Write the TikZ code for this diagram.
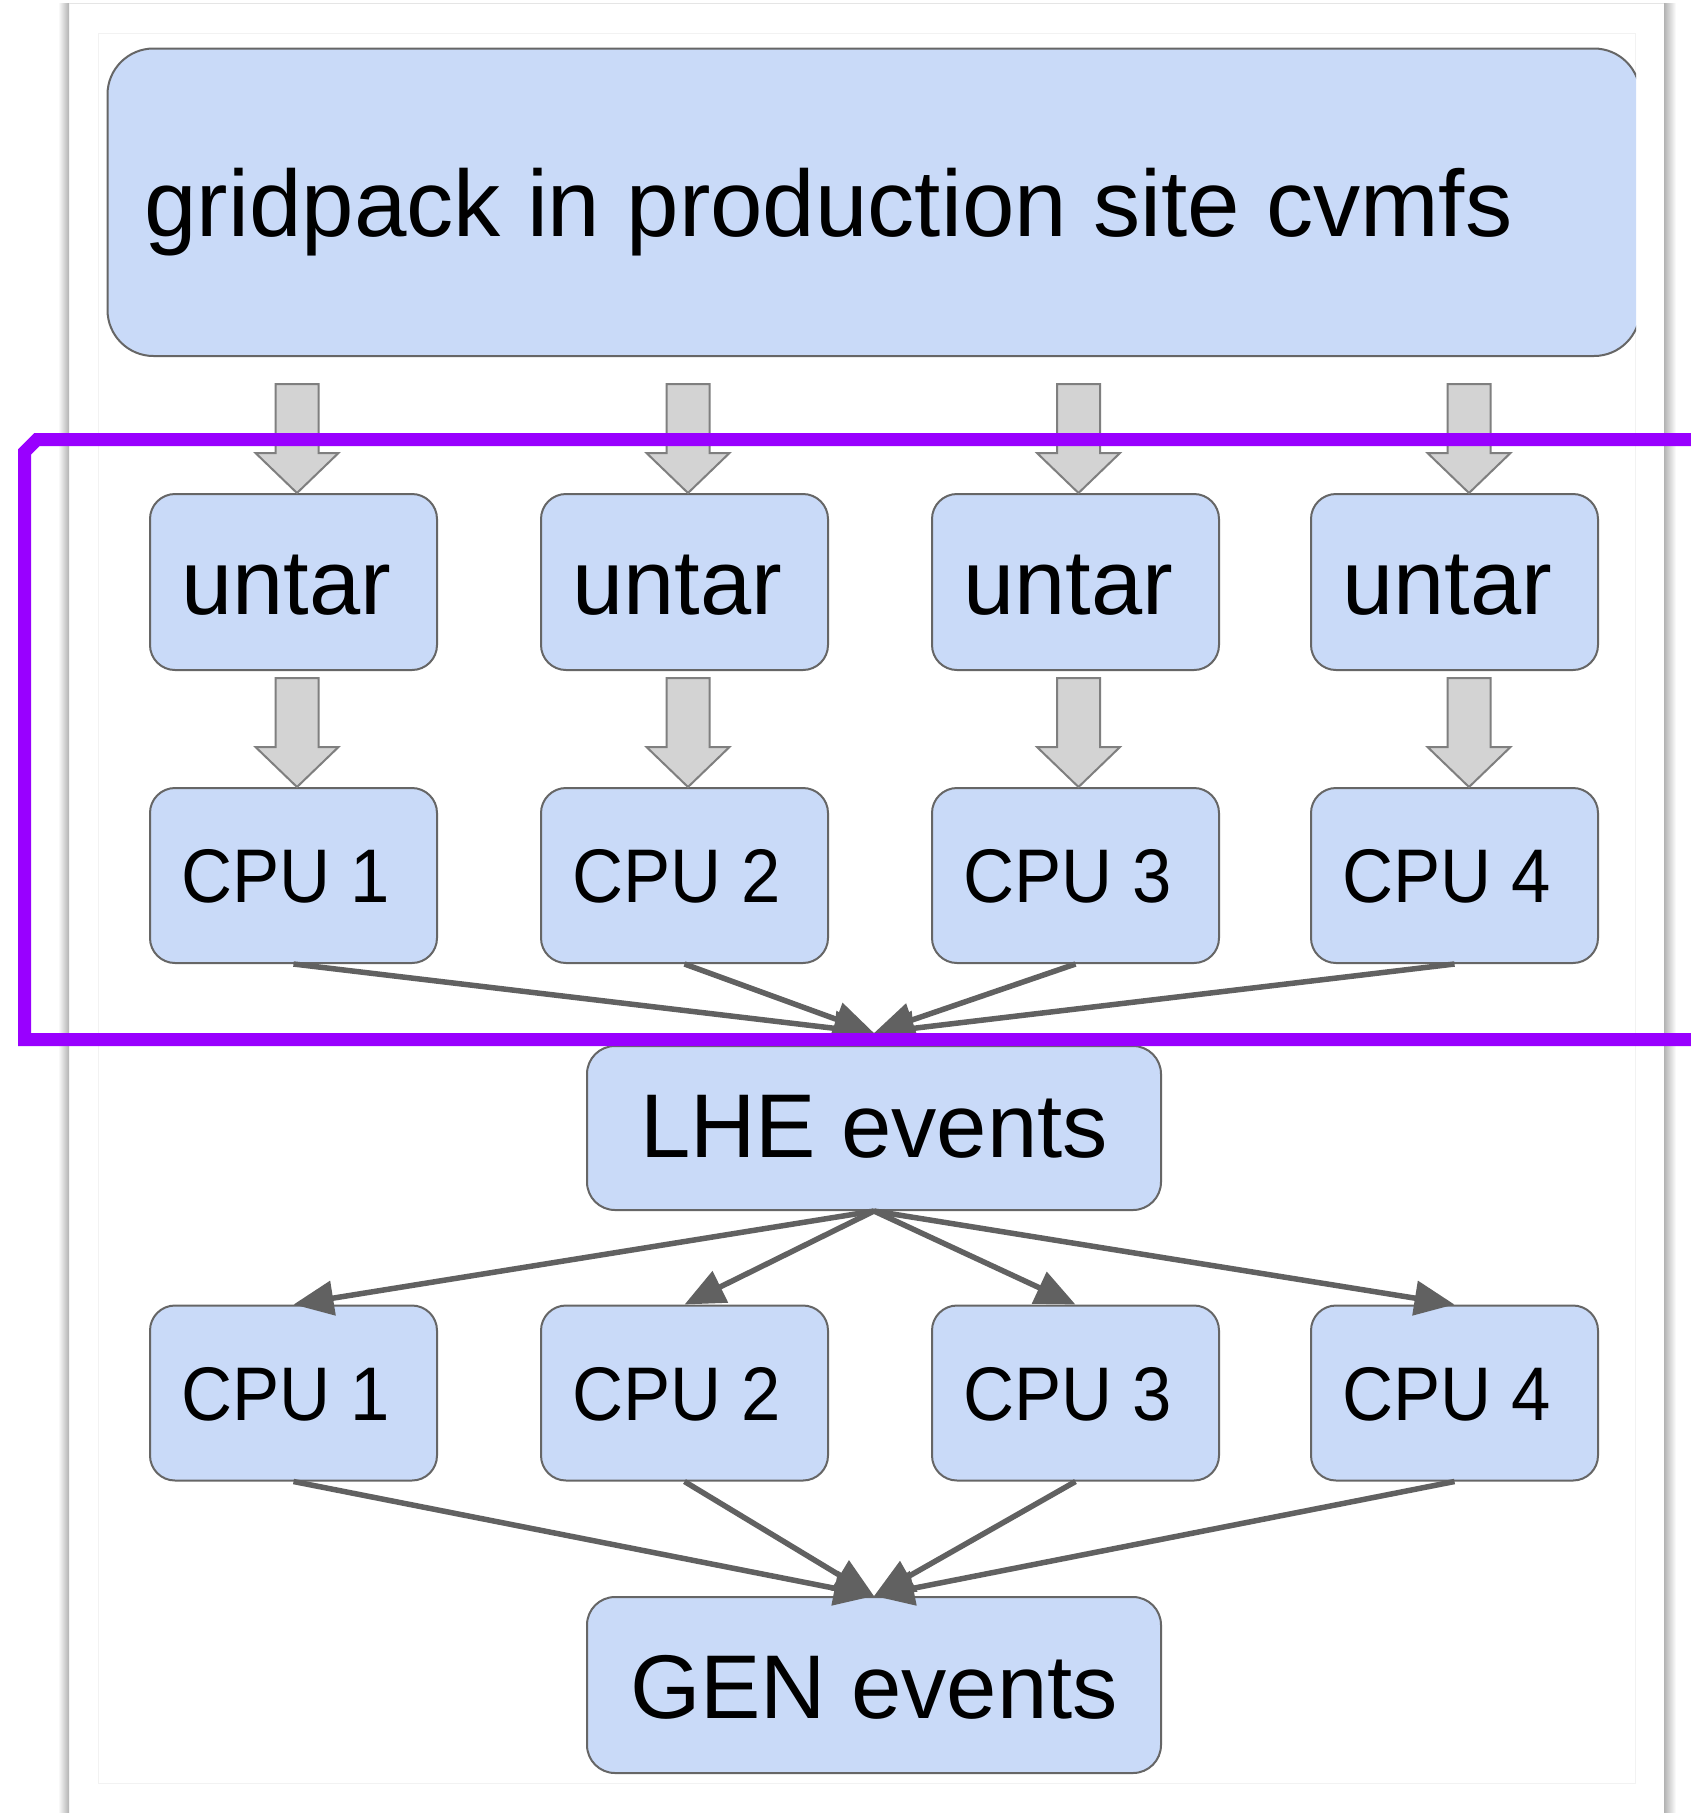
\documentclass[tikz,border=0pt]{standalone}
\usepackage{fontspec}
\setmainfont{Liberation Sans}
\newfontfamily\narrowsans[FakeStretch=0.93]{Liberation Sans}
\usetikzlibrary{arrows.meta}

\definecolor{boxfill}{HTML}{C9DAF8}
\definecolor{boxline}{HTML}{666666}
\definecolor{blockfill}{HTML}{D3D3D3}
\definecolor{blockline}{HTML}{7F7F7F}
\definecolor{connline}{HTML}{616161}
\definecolor{framepurple}{HTML}{9900FF}

\tikzset{
  stagebox/.style={draw=boxline, fill=boxfill, line width=2pt, rounded corners=25pt,
    inner sep=0pt, minimum width=287pt},
  untarbox/.style={stagebox, minimum height=176pt, text height=64pt, text depth=0pt,
    font=\fontsize{92}{100}\selectfont, execute at begin node={\hspace*{-14pt}}},
  cpubox/.style={stagebox, minimum height=175pt, text height=54pt, text depth=0pt,
    font=\narrowsans\fontsize{76}{84}\selectfont, execute at begin node={\hspace*{-16pt}}},
  eventbox/.style={draw=boxline, fill=boxfill, line width=2pt, rounded corners=28pt,
    inner sep=0pt, minimum width=574pt, font=\fontsize{90.5}{98}\selectfont},
  conn/.style={draw=connline, line width=5.5pt, -{Triangle[length=40pt,width=34pt]}},
  blockarrow/.pic={
    \filldraw[fill=blockfill, draw=blockline, line width=2pt, line join=miter]
      (0,0) -- (-41.5,-40) -- (-21.5,-40) -- (-21.5,-109) -- (21.5,-109)
      -- (21.5,-40) -- (41.5,-40) -- cycle;
  }
}

\begin{document}
\begin{tikzpicture}[x=1pt,y=-1pt]
\useasboundingbox (0,0) rectangle (1690,1813);
\fill[white] (0,0) rectangle (1690,1813);

% sheet edges with their soft shadows
\shade[left color=white, right color=black!30] (58,3) rectangle (69,1813);
\shade[left color=black!30, right color=white] (1664,3) rectangle (1676,1813);
\draw[black!10, line width=1pt] (69,3) -- (1664,3);
\draw[black!5, line width=1pt] (98,33) rectangle (1635,1783);

% source box, cut off by the canvas edge on the right
\begin{scope}
  \clip (0,0) rectangle (1636,1813);
  \node[draw=boxline, fill=boxfill, line width=2pt, rounded corners=46pt, inner sep=0pt,
        minimum width=1532.5pt, minimum height=307.5pt, text height=67.5pt, text depth=0pt,
        font=\fontsize{94.3}{100}\selectfont]
    (gp) at (873.75,202.25) {\hspace*{-90.5pt}gridpack in production site cvmfs};
\end{scope}

% unpacking stage
\node[untarbox] (u1) at (293.5,582)  {untar};
\node[untarbox] (u2) at (684.5,582)  {untar};
\node[untarbox] (u3) at (1075.5,582) {untar};
\node[untarbox] (u4) at (1454.5,582) {untar};

\node[cpubox] (c1) at (293.5,875.5)  {CPU 1};
\node[cpubox] (c2) at (684.5,875.5)  {CPU 2};
\node[cpubox] (c3) at (1075.5,875.5) {CPU 3};
\node[cpubox] (c4) at (1454.5,875.5) {CPU 4};

\node[eventbox, minimum height=164pt, text height=58pt, text depth=0pt]
  (lhe) at (874,1128) {LHE events};

% generation stage
\node[cpubox] (d1) at (293.5,1393)  {CPU 1};
\node[cpubox] (d2) at (684.5,1393)  {CPU 2};
\node[cpubox] (d3) at (1075.5,1393) {CPU 3};
\node[cpubox] (d4) at (1454.5,1393) {CPU 4};

\node[eventbox, minimum height=176pt, text height=66pt, text depth=0pt]
  (gen) at (874,1685) {GEN events};

% block arrows: gridpack -> untar -> CPU
\coordinate (a1) at (297,0);
\coordinate (a2) at (688,0);
\coordinate (a3) at (1078.5,0);
\coordinate (a4) at (1469,0);
\foreach \i in {1,...,4} {
  \pic at (a\i |- u\i.north) {blockarrow};
  \pic at (a\i |- c\i.north) {blockarrow};
}

% event flow connectors; the merge point sits just above the LHE box
\coordinate (lhein) at ([yshift=12pt]lhe.north);
\foreach \i in {1,...,4} {
  \draw[conn] (c\i.south) -- (lhein);
  \draw[conn] (lhe.south) -- (d\i.north);
  \draw[conn] (d\i.south) -- (gen.north);
}

% highlight frame round the LHE production step
\draw[framepurple, line width=13pt, line join=miter]
  (1720,439.5) -- (37,439.5) -- (24.5,452) -- (24.5,1039.5) -- (1720,1039.5);
\end{tikzpicture}
\end{document}
